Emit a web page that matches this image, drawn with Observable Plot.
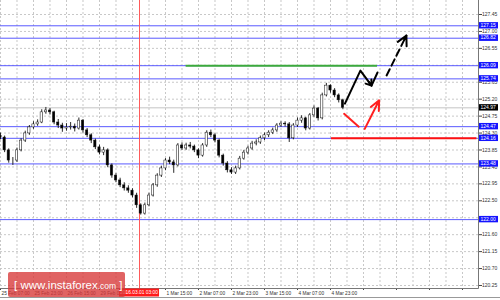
<!DOCTYPE html>
<html><head><meta charset="utf-8">
<script src="https://cdn.jsdelivr.net/npm/d3@7"></script>
<script src="https://cdn.jsdelivr.net/npm/@observablehq/plot@0.6"></script>
<style>
html,body{margin:0;padding:0;background:#fff;}
#chart{width:500px;height:300px;overflow:hidden;}
</style></head><body><div id="chart"></div>
<script>
// ---- data (2-hour candles, hours counted from 25 Feb 07:00, weekend skipped) ----
const openP = [124.22,124.18,123.84,123.57,123.57,123.84,124.10,124.29,124.45,124.53,
124.58,124.85,124.90,124.85,124.58,124.50,124.42,124.45,124.47,124.42,
124.63,124.37,124.24,124.10,123.92,123.78,123.84,123.44,123.17,123.04,
122.91,122.83,122.77,122.64,122.38,122.16,122.38,122.64,122.91,123.17,
123.36,123.57,123.52,123.44,123.97,123.89,123.97,123.94,123.84,123.70,
123.97,124.31,124.24,124.10,123.70,123.49,123.31,123.25,123.36,123.62,
123.78,123.89,124.02,124.05,124.16,124.24,124.31,124.37,124.50,124.55,
124.53,124.16,124.50,124.63,124.69,124.42,124.77,124.95,124.69,125.30,
125.56,125.43,125.30,125.17];
const highP = [124.30,124.22,123.88,123.65,123.90,124.15,124.35,124.50,124.60,124.65,
124.92,124.98,124.95,124.88,124.66,124.56,124.55,124.58,124.54,124.70,
124.66,124.42,124.28,124.14,123.98,123.92,123.88,123.48,123.22,123.10,
122.98,122.90,122.82,122.70,122.42,122.44,122.70,122.96,123.22,123.42,
123.62,123.66,123.58,124.02,124.04,124.03,124.05,123.98,123.88,124.02,
124.36,124.38,124.28,124.14,123.74,123.54,123.38,123.42,123.68,123.84,
123.95,124.08,124.12,124.22,124.30,124.36,124.43,124.55,124.60,124.60,
124.58,124.55,124.70,124.76,124.72,124.82,125.02,124.98,125.36,125.62,
125.58,125.48,125.34,125.20];
const lowP = [124.12,123.78,123.50,123.44,123.52,123.80,124.05,124.24,124.40,124.48,
124.55,124.80,124.78,124.52,124.42,124.32,124.35,124.38,124.33,124.38,
124.30,124.18,124.02,123.86,123.72,123.70,123.38,123.10,122.98,122.85,
122.76,122.70,122.58,122.30,122.12,122.12,122.34,122.60,122.86,123.12,
123.30,123.46,123.23,123.40,123.84,123.84,123.88,123.78,123.62,123.66,
123.92,124.18,124.04,123.64,123.42,123.24,123.20,123.20,123.32,123.58,
123.72,123.84,123.96,124.00,124.10,124.18,124.26,124.32,124.45,124.46,
124.05,124.12,124.45,124.56,124.36,124.38,124.72,124.62,124.65,125.26,
125.36,125.24,125.10,124.92];
const closeP = [124.18,123.84,123.57,123.57,123.84,124.10,124.29,124.45,124.53,124.58,
124.85,124.90,124.85,124.58,124.50,124.42,124.45,124.47,124.42,124.63,
124.37,124.24,124.10,123.92,123.78,123.84,123.44,123.17,123.04,122.91,
122.83,122.77,122.64,122.38,122.16,122.38,122.64,122.91,123.17,123.36,
123.57,123.52,123.44,123.97,123.89,123.97,123.94,123.84,123.70,123.97,
124.31,124.24,124.10,123.70,123.49,123.31,123.25,123.36,123.62,123.78,
123.89,124.02,124.05,124.16,124.24,124.31,124.37,124.50,124.55,124.53,
124.16,124.50,124.63,124.69,124.42,124.77,124.95,124.69,125.30,125.56,
125.43,125.30,125.17,124.97];
const barStepHours = 2;

// tick at 64 h (29 Feb 23:00) is covered by the crosshair label in the reference
const xTickHours = [0,16,32,48,80,96,112,128,144,160];
const xTickLabels = ["25 Feb 07:00","25 Feb 23:00","26 Feb 15:00","29 Feb 07:00",
  "1 Mar 15:00","2 Mar 07:00","2 Mar 23:00","3 Mar 15:00","4 Mar 07:00","4 Mar 23:00"];
const xTickMarks = [0,16,32,48,64,80,96,112,128,144,160,176,192,208,224];
const gridHours = [0,8,16,24,32,40,48,56,64,72,80,88,96,104,112,120,128,136,144,152,160,168,176,184,192,200,208,216,224];
const yTicks = [127.45,127.00,126.55,126.10,125.65,125.20,124.75,124.30,123.85,123.40,122.95,122.50,122.05,121.60,121.15,120.70,120.25];

const levelValues = [127.15,126.82,126.09,125.74,124.47,124.16,123.48,122.00];
const bidPrice = 124.97;
const crossHour = 67.4;
const crossLabel = "2016.03.01 03:00";

const greenLevel = [{p: 126.09, from: 90.0, to: 182.8}];
const redLevel = [{p: 124.16, from: 160.5, to: 231.0}];

// forecast sketch (hour, price)
const blackPathH = [167.0, 174.5, 179.9, 182.8];
const blackPathP = [125.08, 125.96, 125.56, 125.91];
const blackDashH = [187.2, 196.8];
const blackDashP = [125.83, 126.89];
const redDownH = [166.6, 173.7];
const redDownP = [124.81, 124.47];
const redUpH = [176.6, 183.6];
const redUpP = [124.41, 125.17];

// ---- build tables ----
const candles = closeP.map((c, i) => ({h: i * barStepHours, o: openP[i], hi: highP[i], lo: lowP[i], c}));
const blackPath = blackPathH.map((h, i) => ({h, p: blackPathP[i]}));
const blackDash = blackDashH.map((h, i) => ({h, p: blackDashP[i]}));
const seg = (H, P) => [{x1: H[0], y1: P[0], x2: H[1], y2: P[1]}];
// y tick labels hidden under a level box are not drawn (as in the reference)
const visibleYTicks = yTicks.filter(t => !levelValues.concat([bidPrice]).some(v => Math.abs(v - t) < 0.06));

const FONT = "'Liberation Sans', Arial, sans-serif";
const plot = Plot.plot({
  width: 500, height: 300,
  marginLeft: 0, marginRight: 22, marginTop: 0, marginBottom: 12,
  x: {domain: [0, 231.76]},
  y: {domain: [120.17, 127.822]},
  style: {background: "#fff", fontFamily: FONT, color: "#444"},
  marks: [
    Plot.ruleX(gridHours, {stroke: "#c8c8c8", strokeDasharray: "2,2"}),
    Plot.ruleY(yTicks, {stroke: "#c8c8c8", strokeDasharray: "2,2"}),
    Plot.ruleY([bidPrice], {stroke: "#c4c4c4"}),
    Plot.ruleY(levelValues, {stroke: "#5a5aff"}),
    Plot.ruleY(greenLevel, {y: "p", x1: "from", x2: "to", stroke: "#3caa3c", strokeWidth: 2}),
    Plot.ruleY(redLevel, {y: "p", x1: "from", x2: "to", stroke: "#ff1010", strokeWidth: 2}),
    Plot.ruleX([crossHour], {stroke: "#ff5a5a"}),
    Plot.ruleX(candles, {x: "h", y1: "lo", y2: "hi", stroke: "#111", strokeWidth: 0.9}),
    Plot.rect(candles, {x1: d => d.h - 0.55, x2: d => d.h + 0.55, y1: "o", y2: "c",
      fill: d => d.c >= d.o ? "#fff" : "#000", stroke: "#111", strokeWidth: 0.5}),
    // forecast
    Plot.line(blackPath, {x: "h", y: "p", stroke: "#000", strokeWidth: 2, curve: "linear"}),
    Plot.arrow(seg(blackPathH.slice(1,3), blackPathP.slice(1,3)), {x1: "x1", y1: "y1", x2: "x2", y2: "y2",
      stroke: "#000", strokeWidth: 2, headLength: 6, headAngle: 70, insetStart: 14}),
    Plot.line(blackDash, {x: "h", y: "p", stroke: "#000", strokeWidth: 2, strokeDasharray: "7,4"}),
    Plot.arrow(seg(blackDashH, blackDashP), {x1: "x1", y1: "y1", x2: "x2", y2: "y2",
      stroke: "#000", strokeWidth: 2, headLength: 8, headAngle: 55, insetStart: 40}),
    Plot.arrow(seg(redDownH, redDownP), {x1: "x1", y1: "y1", x2: "x2", y2: "y2",
      stroke: "#ff2020", strokeWidth: 2, headLength: 0}),
    Plot.arrow(seg(redUpH, redUpP), {x1: "x1", y1: "y1", x2: "x2", y2: "y2",
      stroke: "#ff2020", strokeWidth: 2, headLength: 9, headAngle: 50}),
    Plot.axisX({ticks: xTickMarks, tickFormat: () => null, tickSize: 2}),
    Plot.axisX({ticks: xTickHours, tickFormat: (d) => xTickLabels[xTickHours.indexOf(d)],
      textAnchor: "start", dx: 1, tickSize: 0, tickPadding: 3, fontSize: 4.8, fill: "#333"}),
    Plot.axisY({anchor: "right", ticks: visibleYTicks, tickFormat: d3.format(".2f"),
      tickSize: 3, tickPadding: 0.5, fontSize: 5, fill: "#333"})
  ]
});

const svg = d3.select(plot);
const xs = plot.scale("x"), ys = plot.scale("y");
const right = 478, bottom = 288;
const g = svg.append("g").attr("font-family", FONT).attr("text-anchor", "start");
// axis frame lines
g.append("line").attr("x1", right + 0.5).attr("x2", right + 0.5).attr("y1", 0).attr("y2", bottom + 0.5).attr("stroke", "#777");
g.append("line").attr("x1", 0).attr("x2", right + 0.5).attr("y1", bottom + 0.5).attr("y2", bottom + 0.5).attr("stroke", "#777");
g.append("line").attr("x1", 0).attr("x2", 500).attr("y1", 297.5).attr("y2", 297.5).attr("stroke", "#999");

// level label boxes
const boxes = levelValues.map(v => ({v, fill: "#1414ff"})).concat([{v: bidPrice, fill: "#000"}]);
for (const b of boxes) {
  const yy = ys.apply(b.v);
  g.append("rect").attr("x", right + 1).attr("y", yy - 3.2).attr("width", 19).attr("height", 6.4).attr("fill", b.fill);
  g.append("text").attr("x", right + 2.5).attr("y", yy).attr("dy", "0.35em").attr("font-size", 5)
    .attr("fill", "#fff").text(b.v.toFixed(2));
}
// crosshair time label
const cx = xs.apply(crossHour);
g.append("rect").attr("x", cx - 20).attr("y", bottom + 0.5).attr("width", 40).attr("height", 8).attr("fill", "#ff1a1a");
g.append("text").attr("x", cx).attr("y", bottom + 4.6).attr("dy", "0.35em").attr("text-anchor", "middle")
  .attr("font-size", 4.9).attr("fill", "#fff").text(crossLabel);

// watermark
const wm = g.append("g");
wm.append("rect").attr("x", 8).attr("y", 272).attr("width", 117).attr("height", 25).attr("rx", 2)
  .attr("fill", "rgba(215,55,55,0.78)");
const wt = wm.append("text").attr("x", 14).attr("y", 289).attr("fill", "#fff").attr("font-size", 11.5);
wt.append("tspan").text("[ ");
wt.append("tspan").text("www.instaforex");
wt.append("tspan").text(".com").attr("font-size", 8.5);
wt.append("tspan").text(" ]");

document.getElementById("chart").appendChild(plot);
</script>
</body></html>
